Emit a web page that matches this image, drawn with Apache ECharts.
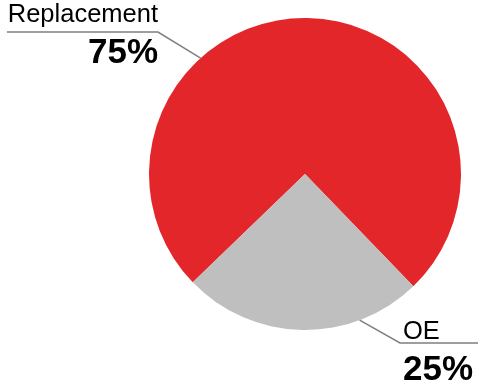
<!DOCTYPE html>
<html>
<head>
<meta charset="utf-8">
<script src="https://cdn.jsdelivr.net/npm/echarts@6/dist/echarts.min.js"></script>
<style>
  html, body { margin: 0; padding: 0; background: #ffffff; }
  #chart { width: 478px; height: 385px; }
</style>
</head>
<body>
<div id="chart"></div>
<script>
// Market split by channel
const categories = ['Replacement', 'OE'];
const shares = [75, 25];
const sliceColors = ['#e3262a', '#bfbfbf'];

// Pie geometry (pixels)
const pieCenter = [305, 174];
const pieRadius = 156;

// Callout placement per slice: anchor angle on the rim (degrees, counter-clockwise from east),
// elbow and end of the leader line, and where the text block sits.
const callouts = [
  { angle: 132, elbow: [158, 32], end: [7, 32], textX: 158, textY: 0, align: 'right' },
  { angle: -69.5, elbow: [400, 343], end: [478, 343], textX: 403, textY: 317, align: 'left' }
];

const chart = echarts.init(document.getElementById('chart'), null, { renderer: 'canvas' });

chart.setOption({
  animation: false,
  backgroundColor: '#ffffff',
  series: [{
    type: 'pie',
    center: pieCenter,
    radius: [0, pieRadius],
    startAngle: 224,
    clockwise: true,
    silent: true,
    data: categories.map((name, i) => ({
      name,
      value: shares[i],
      itemStyle: { color: sliceColors[i] }
    })),
    label: {
      show: true,
      overflow: 'none',
      formatter: p => '{nm|' + p.name + '}\n{pc|' + p.value + '%}',
      rich: {
        nm: { fontFamily: 'Liberation Sans, Arial, sans-serif', fontSize: 25.5, color: '#000', lineHeight: 30 },
        pc: { fontFamily: 'Liberation Sans, Arial, sans-serif', fontSize: 35, fontWeight: 'bold', color: '#000', lineHeight: 46 }
      }
    },
    labelLine: {
      show: true,
      lineStyle: { color: '#7f7f7f', width: 1.5 }
    },
    labelLayout: function (params) {
      const c = callouts[params.dataIndex];
      const a = c.angle * Math.PI / 180;
      const rim = [pieCenter[0] + pieRadius * Math.cos(a), pieCenter[1] - pieRadius * Math.sin(a)];
      return {
        x: c.textX,
        y: c.textY,
        align: c.align,
        verticalAlign: 'top',
        labelLinePoints: [rim, c.elbow, c.end]
      };
    }
  }]
});
</script>
</body>
</html>
